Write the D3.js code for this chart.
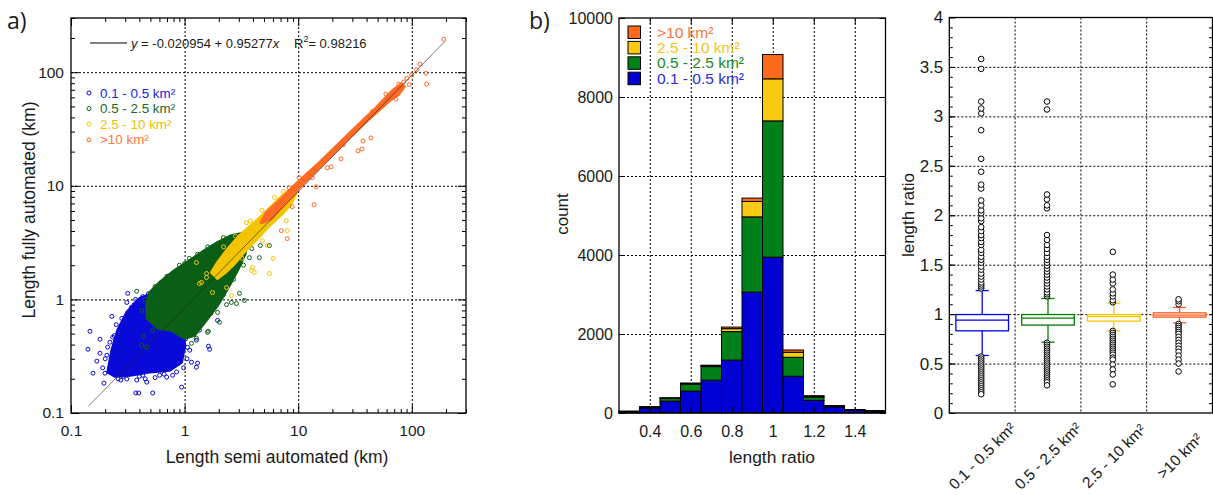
<!DOCTYPE html>
<html>
<head>
<meta charset="utf-8">
<script src="https://cdn.jsdelivr.net/npm/d3@7"></script>
<style>
  body { margin: 0; background: #fff; }
  svg text { font-family: "Liberation Sans", Arial, sans-serif; fill: #1a1a1a; }
</style>
</head>
<body>
<svg id="fig" width="1213" height="495"></svg>
<script>
// catchment size classes
const classes = ["0.1 - 0.5 km²", "0.5 - 2.5 km²", "2.5 - 10 km²", ">10 km²"];

// a) length semi automated vs fully automated (km)
// dense cores of the clouds
const blueCore = [[0.211,0.229],[0.229,0.357],[0.258,0.535],[0.310,0.769],[0.403,1.02],[0.546,1.15],[0.738,0.98],[0.96,0.68],[1.0,0.395],[0.94,0.28],[0.738,0.238],[0.493,0.229],[0.33,0.215],[0.243,0.211]];
const greenCore = [[0.464,0.886],[0.493,1.15],[0.603,1.41],[0.817,1.80],[1.11,2.20],[1.50,2.69],[1.95,3.16],[2.58,3.64],[3.2,3.8],[3.6,3.4],[3.4,2.5],[3.0,1.9],[2.48,1.33],[1.95,0.886],[1.50,0.629],[1.22,0.483],[1.0,0.455],[0.769,0.535],[0.58,0.56],[0.47,0.68]];
const yellowCore = [[1.73,1.73],[1.95,2.11],[2.34,2.69],[3.04,3.64],[4.11,4.73],[5.35,6.04],[6.81,7.69],[8.68,9.42],[9.6,8.68],[8.68,6.95],[7.10,5.57],[5.57,4.46],[4.37,3.43],[3.43,2.69],[2.80,2.11],[2.29,1.73],[1.95,1.53]];
const orangeCore = [[4.73,4.73],[5.24,5.80],[7.24,7.85],[9.6,10.4],[15.3,15.9],[29.8,30.4],[48.3,48.3],[66.8,68.1],[80.1,78.5],[86,75],[76.9,64],[62.9,55.7],[42.0,38.7],[26.4,24.8],[16.2,15.3],[10.8,10.2],[7.54,6.95],[5.80,5.14]];

// single points around the cores
const bluePts = [[0.147,0.524],[0.141,0.364],[0.180,0.446],[0.229,0.709],[0.316,1.13],[0.428,1.06],[0.169,0.286],[0.207,0.323],[0.199,0.224],[0.275,0.195],[0.379,0.195],[0.372,0.150],[0.395,0.150],[0.524,0.150],[0.94,0.169],[0.195,0.183],[0.156,0.224],[0.269,0.258],[0.603,0.215],[0.785,0.215],[1.30,0.275],[1.27,0.253],[1.66,0.364],[1.62,0.387],[1.95,0.654],[1.27,0.437],[1.11,0.357],[0.94,1.91],[0.310,0.94],[0.180,0.336],[0.233,0.464],[1.15,0.280],[1.06,0.379],[1.35,0.535],[0.695,0.207],[0.464,0.187],[0.220,0.253],[0.310,0.199],[0.428,0.215],[0.25,0.6],[0.28,0.68],[0.36,0.9],[0.22,0.42],[0.2,0.3],[0.26,0.2],[0.45,0.2],[0.55,0.205],[0.66,0.22],[0.85,0.23],[0.98,0.25],[1.05,0.3],[1.02,0.45],[1.08,0.5],[0.6,1.2],[0.48,1.12],[0.75,1.4],[0.68,1.3],[0.37,1.0],[0.34,0.85],[0.19,0.25],[0.21,0.38],[0.24,0.48],[0.3,0.62],[0.29,0.21],[0.4,0.21],[0.62,0.24],[0.9,0.3],[0.97,0.36]];
const greenPts = [[0.379,1.18],[1.04,1.80],[1.62,2.58],[3.36,0.98],[2.58,0.94],[1.95,0.769],[2.03,0.629],[1.62,0.524],[1.15,0.411],[0.437,0.474],[0.524,0.535],[0.641,0.557],[0.785,0.535],[0.580,0.592],[3.23,2.58],[4.64,2.98],[5.57,2.98],[1.0,2.07],[4.55,2.33],[3.72,2.33],[3.04,1.13],[2.86,0.92],[2.34,0.90],[1.83,0.85],[0.629,1.38],[0.419,0.395],[0.464,0.379],[1.27,0.455],[1.59,0.514],[0.45,1.0],[0.55,1.3],[0.7,1.6],[0.9,2.0],[1.3,2.5],[4.2,3.4],[3.9,2.8],[3.3,2.0],[2.7,1.5],[2.2,1.1],[1.7,0.75],[1.35,0.6],[0.9,0.5],[0.42,0.8],[1.1,2.3],[1.6,2.9],[2.2,3.5]];
const yellowPts = [[3.50,4.73],[5.24,5.68],[7.85,4.93],[8.01,4.03],[6.04,2.29],[4.83,3.29],[5.57,1.69],[4.11,1.73],[3.87,1.80],[1.27,2.11],[1.35,1.38],[1.76,1.15],[2.34,1.27],[2.58,1.08],[1.56,1.69],[3.95,1.91],[5.35,2.98],[1.41,1.41],[1.56,1.56],[2.2,2.9],[2.8,3.6],[3.8,4.9],[4.8,6.1],[6.2,7.9],[7.4,8.9],[6.0,5.0],[4.6,3.7],[3.2,2.3],[2.6,2.0]];
const orangePts = [[191,195],[118,118],[133,98],[135,78.5],[90.4,88.6],[76.9,78.5],[72.4,58.0],[43.7,26.4],[37.2,24.8],[36.4,21.1],[33.6,20.3],[23.8,17.3],[19.5,14.7],[18.0,14.4],[14.4,9.8],[13.8,6.81],[10.2,11.8],[13.3,11.8],[59.2,64.1],[7.10,4.03],[8.01,3.43],[8.86,6.54],[8.34,9.6],[100,95],[85,82],[55,54],[35,34],[22,22],[12,12.5],[6.2,6.5],[110,105],[65,60],[25,23],[95,78],[70,66],[45,45],[30,29]];

// linear fit shown in a)
const fitA = -0.020954, fitB = 0.95277, fitR2 = 0.98216;
const fitRange = [0.142, 195];

// b) histogram of length ratio, stacked by class
const binWidth = 0.1;
const histBins   = [0.3, 0.4, 0.5, 0.6, 0.7, 0.8, 0.9, 1.0, 1.1, 1.2, 1.3, 1.4, 1.5];
const histBlue   = [30, 125, 300, 555, 830, 1340, 3060, 3945, 930, 320, 155, 70, 45];
const histGreen  = [10, 25, 70, 175, 345, 720, 1905, 3450, 480, 85, 20, 10, 8];
const histYellow = [3, 5, 10, 20, 25, 75, 390, 1065, 127, 20, 6, 3, 3];
const histOrange = [2, 3, 5, 8, 10, 40, 85, 615, 58, 12, 4, 1, 2];

// c) box plot of length ratio
const boxLo  = [0.582, 0.717, 0.831, 0.912];
const boxQ1  = [0.831, 0.889, 0.929, 0.970];
const boxMed = [0.939, 0.959, 0.976, 0.990];
const boxQ3  = [0.996, 0.996, 0.996, 1.013];
const boxHi  = [1.238, 1.158, 1.111, 1.067];
const outBlue = [1.26,1.28,1.30,1.32,1.35,1.38,1.41,1.45,1.48,1.52,1.55,1.58,1.62,1.65,1.70,1.73,1.77,1.80,1.84,1.88,1.94,1.97,2.02,2.05,2.10,2.15,2.27,2.31,2.44,2.57,2.86,3.03,3.08,3.15,3.48,3.58,
  0.57,0.55,0.53,0.51,0.49,0.47,0.45,0.43,0.41,0.39,0.37,0.35,0.33,0.31,0.29,0.27,0.25,0.23,0.21,0.19];
const outGreen = [1.18,1.20,1.22,1.25,1.28,1.31,1.34,1.37,1.40,1.43,1.46,1.49,1.52,1.55,1.58,1.62,1.66,1.70,1.75,1.80,2.07,2.10,2.16,2.21,3.07,3.15,
  0.71,0.69,0.67,0.65,0.63,0.61,0.59,0.57,0.55,0.53,0.51,0.49,0.47,0.45,0.43,0.41,0.39,0.37,0.35,0.33,0.31,0.28];
const outYellow = [1.12,1.14,1.18,1.21,1.25,1.31,1.35,1.40,1.63,
  0.83,0.81,0.79,0.77,0.75,0.73,0.71,0.69,0.67,0.65,0.63,0.61,0.59,0.56,0.54,0.49,0.44,0.39,0.29];
const outOrange = [1.10,1.13,1.15,
  0.90,0.88,0.86,0.84,0.82,0.80,0.77,0.74,0.71,0.68,0.65,0.62,0.58,0.54,0.50,0.42];

// colours
const dotColors = ["#0a0ad8", "#0b5e16", "#f5c400", "#ff6a24"];
const legTextA  = ["#2222dd", "#1d6a1d", "#f2c200", "#ff7638"];
const barColors = ["#0000d2", "#008018", "#f8cb10", "#ff6a1f"];
const legTextB  = ["#2a2ae0", "#1a8a1a", "#f5c31a", "#ff7535"];
const boxColors = ["#0000ee", "#008000", "#f5c800", "#ff5a1a"];

const svg = d3.select("#fig");

function axisG(g, axis, tx, ty, size) {
  const s = g.append("g").attr("transform", `translate(${tx},${ty})`).call(axis);
  s.select(".domain").remove();
  s.attr("font-family", null).attr("font-size", size || 15);
  return s;
}
function gridG(g, axis, tx, ty) {
  const s = axisG(g, axis, tx, ty);
  s.selectAll("line").attr("stroke", "#000").attr("stroke-dasharray", "2,2");
  s.selectAll("text").remove();
  return s;
}

// ================= panel a =================
const A = {l: 71, r: 466, t: 18, b: 413};
const xA = d3.scaleLog().domain([0.1, 300]).range([A.l, A.r]);
const yA = d3.scaleLog().domain([0.1, 300]).range([A.b, A.t]);
const majA = [0.1, 1, 10, 100];
const minA = xA.ticks().filter(d => !majA.some(m => Math.abs(m - d) < 1e-9));
const pa = svg.append("g");

gridG(pa, d3.axisBottom(xA).tickValues([1, 10, 100]).tickSize(-(A.b - A.t)).tickFormat(""), 0, A.b);
gridG(pa, d3.axisLeft(yA).tickValues([1, 10, 100]).tickSize(-(A.r - A.l)).tickFormat(""), A.l, 0);

const cores = [blueCore, greenCore, yellowCore, orangeCore];
const pts = [bluePts, greenPts, yellowPts, orangePts];
const hull = d3.line().x(d => xA(d[0])).y(d => yA(d[1])).curve(d3.curveLinearClosed);
cores.forEach((c, i) => {
  pa.append("path").attr("d", hull(c))
    .attr("fill", dotColors[i]).attr("stroke", dotColors[i])
    .attr("stroke-width", 3).attr("stroke-linejoin", "round");
  pa.append("g").selectAll("circle").data(pts[i]).join("circle")
    .attr("cx", d => xA(d[0])).attr("cy", d => yA(d[1])).attr("r", 2)
    .attr("fill", "none").attr("stroke", dotColors[i]).attr("stroke-width", 1);
});

pa.append("line")
  .attr("x1", xA(fitRange[0])).attr("y1", yA(fitA + fitB * fitRange[0]))
  .attr("x2", xA(fitRange[1])).attr("y2", yA(fitA + fitB * fitRange[1]))
  .attr("stroke", "#222").attr("stroke-width", 0.6);

axisG(pa, d3.axisBottom(xA).tickValues(majA).tickSize(-8).tickPadding(12).tickFormat(d3.format("~g")), 0, A.b, 15.5);
axisG(pa, d3.axisBottom(xA).tickValues(minA).tickSize(-4).tickFormat(""), 0, A.b);
axisG(pa, d3.axisTop(xA).tickValues(majA).tickSize(-8).tickFormat(""), 0, A.t);
axisG(pa, d3.axisTop(xA).tickValues(minA).tickSize(-4).tickFormat(""), 0, A.t);
axisG(pa, d3.axisLeft(yA).tickValues(majA).tickSize(-8).tickPadding(7).tickFormat(d3.format("~g")), A.l, 0, 15.5);
axisG(pa, d3.axisLeft(yA).tickValues(minA).tickSize(-4).tickFormat(""), A.l, 0);
axisG(pa, d3.axisRight(yA).tickValues(majA).tickSize(-8).tickFormat(""), A.r, 0);
axisG(pa, d3.axisRight(yA).tickValues(minA).tickSize(-4).tickFormat(""), A.r, 0);
pa.append("rect").attr("x", A.l).attr("y", A.t).attr("width", A.r - A.l).attr("height", A.b - A.t)
  .attr("fill", "none").attr("stroke", "#000").attr("stroke-width", 1.3);

// fit legend
pa.append("line").attr("x1", 90).attr("x2", 127).attr("y1", 43).attr("y2", 43).attr("stroke", "#000");
const eq = pa.append("text").attr("x", 131).attr("y", 47.5).attr("font-size", 13);
eq.append("tspan").attr("font-style", "italic").text("y");
eq.append("tspan").text(` = ${fitA} + ${fitB}`);
eq.append("tspan").attr("font-style", "italic").text("x");
const r2 = pa.append("text").attr("x", 294).attr("y", 47.5).attr("font-size", 13);
r2.append("tspan").text("R");
r2.append("tspan").attr("dy", -6).attr("font-size", 9).text("2");
r2.append("tspan").attr("dy", 6).text(`= ${fitR2}`);

// class legend
classes.forEach((c, i) => {
  const y = 93 + i * 15.6;
  pa.append("circle").attr("cx", 89).attr("cy", y).attr("r", 2)
    .attr("fill", "none").attr("stroke", dotColors[i]);
  pa.append("text").attr("x", 100).attr("y", y + 4.5).attr("font-size", 13.4)
    .style("fill", legTextA[i]).text(c);
});

pa.append("text").attr("x", 277).attr("y", 463).attr("text-anchor", "middle")
  .attr("font-size", 17.5).text("Length semi automated (km)");
pa.append("text").attr("transform", "translate(35,210) rotate(-90)").attr("text-anchor", "middle")
  .attr("font-size", 17.5).text("Length fully automated (km)");
pa.append("text").attr("x", 7).attr("y", 29).attr("font-size", 23)
  .style("font-family", "'Open Sans', sans-serif").text("a)");

// ================= panel b =================
const B = {l: 619, r: 885.5, t: 18, b: 413};
const xB = d3.scaleLinear().domain([0.25, 1.55]).range([B.l, B.r]);
const yB = d3.scaleLinear().domain([0, 10000]).range([B.b, B.t]);
const pb = svg.append("g");
const ticksXB = [0.4, 0.6, 0.8, 1, 1.2, 1.4];
const ticksYB = [0, 2000, 4000, 6000, 8000, 10000];

gridG(pb, d3.axisBottom(xB).tickValues(ticksXB).tickSize(-(B.b - B.t)).tickFormat(""), 0, B.b);
gridG(pb, d3.axisLeft(yB).tickValues([2000, 4000, 6000, 8000]).tickSize(-(B.r - B.l)).tickFormat(""), B.l, 0);

const rows = histBins.map((b, i) => ({bin: b, c0: histBlue[i], c1: histGreen[i], c2: histYellow[i], c3: histOrange[i]}));
const stacked = d3.stack().keys(["c0", "c1", "c2", "c3"])(rows);
pb.append("g").selectAll("g").data(stacked).join("g")
  .attr("fill", (d, i) => barColors[i])
  .selectAll("rect").data(d => d).join("rect")
  .attr("x", d => xB(d.data.bin - binWidth / 2))
  .attr("width", d => xB(d.data.bin + binWidth / 2) - xB(d.data.bin - binWidth / 2))
  .attr("y", d => yB(d[1]))
  .attr("height", d => yB(d[0]) - yB(d[1]))
  .attr("stroke", "#000").attr("stroke-width", 1);

axisG(pb, d3.axisBottom(xB).tickValues(ticksXB).tickSize(-6).tickPadding(13).tickFormat(d3.format("~g")), 0, B.b, 16);
axisG(pb, d3.axisTop(xB).tickValues(ticksXB).tickSize(-6).tickFormat(""), 0, B.t);
axisG(pb, d3.axisLeft(yB).tickValues(ticksYB).tickSize(-6).tickPadding(6).tickFormat(d3.format("d")), B.l, 0, 16);
axisG(pb, d3.axisRight(yB).tickValues(ticksYB).tickSize(-6).tickFormat(""), B.r, 0);
pb.append("rect").attr("x", B.l).attr("y", B.t).attr("width", B.r - B.l).attr("height", B.b - B.t)
  .attr("fill", "none").attr("stroke", "#000").attr("stroke-width", 1.3);

// legend, largest class on top
[3, 2, 1, 0].forEach((k, j) => {
  const y = 26 + j * 15.4;
  pb.append("rect").attr("x", 628).attr("y", y).attr("width", 12.5).attr("height", 12.5)
    .attr("fill", barColors[k]).attr("stroke", "#000");
  pb.append("text").attr("x", 657).attr("y", y + 11.5).attr("font-size", 15.5)
    .style("fill", legTextB[k]).text(classes[k]);
});

pb.append("text").attr("x", 772).attr("y", 463).attr("text-anchor", "middle")
  .attr("font-size", 17.4).text("length ratio");
pb.append("text").attr("transform", "translate(568,214) rotate(-90)").attr("text-anchor", "middle")
  .attr("font-size", 17).text("count");
pb.append("text").attr("x", 529).attr("y", 29).attr("font-size", 23)
  .style("font-family", "'Open Sans', sans-serif").text("b)");

// ================= panel c =================
const C = {l: 949.3, r: 1212.5, t: 17.5, b: 413};
const xC = d3.scaleBand().domain(classes).range([C.l, C.r]);
const yC = d3.scaleLinear().domain([0, 4]).range([C.b, C.t]);
const pc = svg.append("g");
const ticksYC = [0, 0.5, 1, 1.5, 2, 2.5, 3, 3.5, 4];
const minYC = d3.range(1, 40).map(k => k / 10);

gridG(pc, d3.axisLeft(yC).tickValues(ticksYC.slice(1, -1)).tickSize(-(C.r - C.l)).tickFormat(""), C.l, 0);
classes.slice(1).forEach(c => {
  pc.append("line").attr("x1", xC(c)).attr("x2", xC(c)).attr("y1", C.t).attr("y2", C.b)
    .attr("stroke", "#000").attr("stroke-dasharray", "2,2");
});

const outs = [outBlue, outGreen, outYellow, outOrange];
const bw = xC.bandwidth();
classes.forEach((c, i) => {
  const cx = xC(c) + bw / 2, half = bw * 0.4, cap = bw * 0.1;
  const g = pc.append("g").attr("stroke", boxColors[i]).attr("stroke-width", 1.3).attr("fill", "none");
  g.append("line").attr("x1", cx).attr("x2", cx).attr("y1", yC(boxQ3[i])).attr("y2", yC(boxHi[i]));
  g.append("line").attr("x1", cx).attr("x2", cx).attr("y1", yC(boxQ1[i])).attr("y2", yC(boxLo[i]));
  g.append("line").attr("x1", cx - cap).attr("x2", cx + cap).attr("y1", yC(boxHi[i])).attr("y2", yC(boxHi[i]));
  g.append("line").attr("x1", cx - cap).attr("x2", cx + cap).attr("y1", yC(boxLo[i])).attr("y2", yC(boxLo[i]));
  g.append("rect").attr("x", cx - half).attr("width", 2 * half)
    .attr("y", yC(boxQ3[i])).attr("height", yC(boxQ1[i]) - yC(boxQ3[i])).attr("fill", "#fff");
  g.append("line").attr("x1", cx - half).attr("x2", cx + half).attr("y1", yC(boxMed[i])).attr("y2", yC(boxMed[i]));
  pc.append("g").selectAll("circle").data(outs[i]).join("circle")
    .attr("cx", cx - 1).attr("cy", d => yC(d)).attr("r", 2.8)
    .attr("fill", "#fff").attr("stroke", "#000").attr("stroke-width", 1);
  pc.append("text").attr("transform", `translate(${cx},456) rotate(-45)`)
    .attr("text-anchor", "middle").attr("dy", "0.35em").attr("font-size", 15.5).text(c);
});

axisG(pc, d3.axisLeft(yC).tickValues(ticksYC).tickSize(-6).tickPadding(6).tickFormat(d3.format("~g")), C.l, 0, 17);
axisG(pc, d3.axisLeft(yC).tickValues(minYC).tickSize(-3.5).tickFormat(""), C.l, 0);
axisG(pc, d3.axisRight(yC).tickValues(minYC).tickSize(-3.5).tickFormat(""), C.r, 0);
pc.append("rect").attr("x", C.l).attr("y", C.t).attr("width", C.r - C.l).attr("height", C.b - C.t)
  .attr("fill", "none").attr("stroke", "#000").attr("stroke-width", 1.3);
pc.append("text").attr("transform", "translate(914,215) rotate(-90)").attr("text-anchor", "middle")
  .attr("font-size", 17).text("length ratio");
</script>
</body>
</html>
